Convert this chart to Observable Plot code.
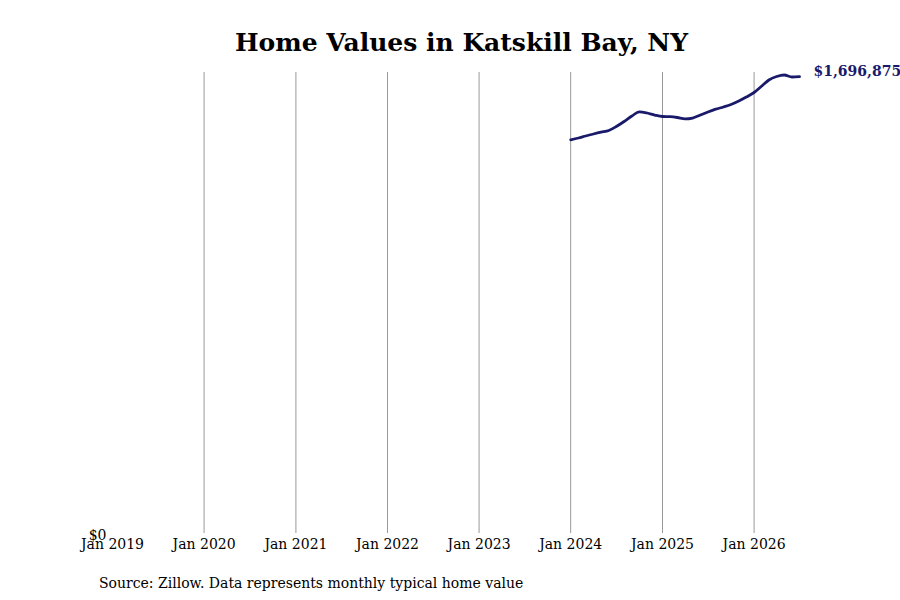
<!DOCTYPE html>
<html>
<head>
<meta charset="utf-8">
<script src="https://cdn.jsdelivr.net/npm/d3@7"></script>
<script src="https://cdn.jsdelivr.net/npm/@observablehq/plot@0.6"></script>
<style>
  body { margin: 0; background: #fff; font-family: "DejaVu Serif", serif; }
  #title { height: 60px; line-height: 86px; font-size: 25px; font-weight: bold; text-align: center; padding-left: 23px; box-sizing: border-box; width: 900px; }
  #caption { font-size: 14px; padding-left: 99px; margin-top: 12px; }
  svg { display: block; }
</style>
</head>
<body>
<div id="title">Home Values in Katskill Bay, NY</div>
<div id="chart"></div>
<div id="caption">Source: Zillow. Data represents monthly typical home value</div>
<script>
const months = [
  "2024-01","2024-02","2024-03","2024-04","2024-05","2024-06","2024-07","2024-08","2024-09","2024-10","2024-11","2024-12",
  "2025-01","2025-02","2025-03","2025-04","2025-05","2025-06","2025-07","2025-08","2025-09","2025-10","2025-11","2025-12",
  "2026-01","2026-02","2026-03","2026-04","2026-05","2026-06","2026-07"
];
const values = [
  1462000,1468700,1476200,1483600,1490300,1496600,1511400,1530000,1550400,1566000,1561600,1554100,
  1548600,1547800,1544900,1540000,1543000,1554100,1565300,1575700,1583900,1593100,1606100,1621000,
  1637700,1661800,1684100,1697100,1702700,1695300,1696875
];
const tickYears = [2019,2020,2021,2022,2023,2024,2025,2026];
const gridYears = [2020,2021,2022,2023,2024,2025,2026];
const lastLabel = "$1,696,875";

const data = months.map((m, i) => ({date: new Date(m + "-01T00:00:00"), value: values[i]}));
const last = data[data.length - 1];
const yr = y => new Date(y, 0, 1);

const chart = Plot.plot({
  width: 900,
  height: 503,
  marginLeft: 112,
  marginRight: 101,
  marginTop: 12,
  marginBottom: 30,
  style: {fontFamily: "DejaVu Serif", fontSize: "14px", background: "#fff"},
  x: {type: "time", domain: [yr(2019), last.date]},
  y: {domain: [0, 1712000]},
  marks: [
    Plot.ruleX(gridYears.map(yr), {stroke: "#999", strokeWidth: 1}),
    Plot.axisX({ticks: tickYears.map(yr), tickFormat: d => "Jan " + d.getFullYear(), tickSize: 0, tickPadding: 6, label: null, fill: "#000"}),
    Plot.axisY({ticks: [0], tickFormat: () => "$0", tickSize: 0, tickPadding: 6, label: null, fill: "#000", dy: 2}),
    Plot.line(data, {x: "date", y: "value", stroke: "#1a1a6b", strokeWidth: 2.8, curve: "monotone-x"}),
    Plot.text([last], {x: "date", y: "value", text: () => lastLabel, textAnchor: "start", dx: 14, dy: -5, fill: "#1a1a6b", fontWeight: "bold", fontSize: 14})
  ]
});
document.getElementById("chart").appendChild(chart);
</script>
</body>
</html>
